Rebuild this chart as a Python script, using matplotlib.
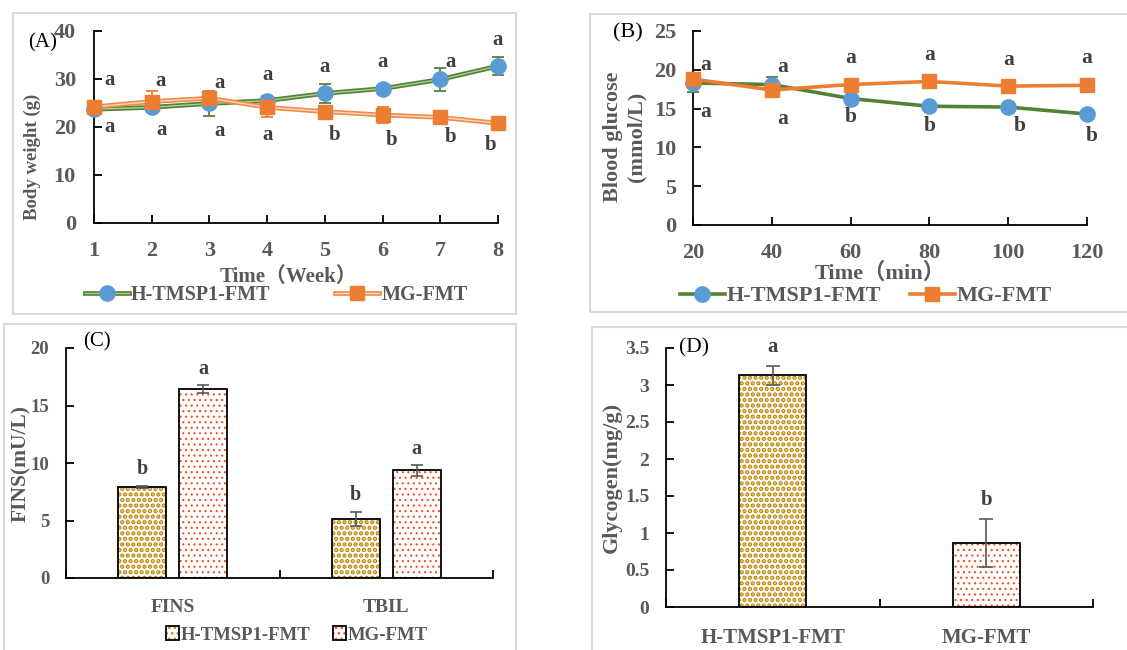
import numpy as np
import matplotlib
matplotlib.use('Agg')
import matplotlib.pyplot as plt
from matplotlib.patches import Rectangle
from matplotlib.ticker import FuncFormatter

plt.rcParams['font.family'] = ['Liberation Serif', 'Noto Sans CJK SC', 'DejaVu Sans']

# ---- data (A) body weight
weeks = [1, 2, 3, 4, 5, 6, 7, 8]
bw_h = [23.7, 24.1, 24.9, 25.5, 27.0, 28.0, 29.9, 32.7]
bw_h_err = [0.5, 0.8, 2.6, 1.0, 2.0, 0.8, 2.3, 1.8]
bw_mg = [24.2, 25.3, 26.0, 24.1, 23.2, 22.5, 22.0, 20.8]
bw_mg_err = [0.5, 2.1, 1.5, 2.0, 1.0, 1.7, 0.6, 0.8]
bw_top_lab = ['a'] * 8
bw_top_y = [29.8, 29.5, 29.1, 30.8, 32.6, 33.6, 33.6, 38.1]
bw_top_dx = [0.27, 0.16, 0.17, 0, 0, 0, 0.17, 0]
bw_bot_lab = ['a', 'a', 'a', 'a', 'b', 'b', 'b', 'b']
bw_bot_y = [20.1, 19.4, 19.1, 18.4, 18.4, 17.3, 18.0, 16.3]
bw_bot_dx = [0.27, 0.17, 0.18, 0, 0.17, 0.16, 0.17, -0.13]

# ---- data (B) blood glucose
minutes = [20, 40, 60, 80, 100, 120]
bg_h = [18.3, 18.1, 16.3, 15.3, 15.2, 14.3]
bg_h_err = [1.1, 1.0, 0.3, 0.3, 0.3, 0.3]
bg_mg = [18.8, 17.4, 18.1, 18.5, 17.9, 18.0]
bg_mg_err = [0.5, 0.9, 0.4, 0.4, 0.4, 0.4]
bg_top_lab = ['a'] * 6
bg_top_y = [20.6, 20.4, 21.5, 21.9, 21.3, 21.5]
bg_top_dx = [3.2, 2.8, 0, 0, 0, 0]
bg_bot_lab = ['a', 'a', 'b', 'b', 'b', 'b']
bg_bot_y = [14.6, 13.7, 13.9, 12.8, 12.8, 11.5]
bg_bot_dx = [3.2, 2.8, 0, 0, 3.0, 1.3]

# ---- data (C) FINS / TBIL
c_cats = ['FINS', 'TBIL']
c_h = [7.9, 5.13]
c_h_err = [0.1, 0.6]
c_mg = [16.4, 9.36]
c_mg_err = [0.35, 0.5]
c_h_lab = ['b', 'b']
c_mg_lab = ['a', 'a']

# ---- data (D) glycogen
d_cats = ['H-TMSP1-FMT', 'MG-FMT']
d_vals = [3.13, 0.865]
d_err = [0.13, 0.33]
d_lab = ['a', 'b']

groups = ['H-TMSP1-FMT', 'MG-FMT']

GRAY = '#595959'
DARK = '#404040'
GREEN = '#548235'
BLUE = '#5B9BD5'
ORANGE = '#ED7D31'
GOLD = '#C08500'
RED = '#F0501E'

W, H = 1127, 650
fig = plt.figure(figsize=(W / 100, H / 100), dpi=100)


def rect(l, r, t, b):
    return [l / W, 1 - b / H, (r - l) / W, (b - t) / H]


def fx(x):
    return x / W


def fy(y):
    return 1 - y / H


# light gray panel frames
for l, t, r, b in [(13, 13, 516, 314), (590, 14, 1130, 312), (4, 324, 516, 660), (592, 327, 1130, 660)]:
    fig.patches.append(Rectangle((fx(l), fy(b)), fx(r - l), (b - t) / H, transform=fig.transFigure,
                                 fill=False, edgecolor='#D9D9D9', linewidth=1.5))


def style_axes(ax, fs, xpad, ypad):
    for s in ['top', 'right']:
        ax.spines[s].set_visible(False)
    for s in ['left', 'bottom']:
        ax.spines[s].set_linewidth(1.3)
        ax.spines[s].set_color('black')
    ax.tick_params(axis='both', direction='in', length=6, width=1.3, colors='black',
                   labelcolor=GRAY, labelsize=fs)
    ax.tick_params(axis='x', pad=xpad)
    ax.tick_params(axis='y', pad=ypad)
    for lab in ax.get_xticklabels() + ax.get_yticklabels():
        lab.set_fontweight('bold')


def num_fmt(v, pos):
    return ('%g' % v)


# ================= (A)
axA = fig.add_axes(rect(94, 498, 31, 223))
axA.set_xlim(1, 8)
axA.set_ylim(0, 40)
axA.set_xticks(weeks)
axA.set_yticks([0, 10, 20, 30, 40])
axA.errorbar(weeks, bw_h, yerr=bw_h_err, fmt='none', ecolor=GREEN, elinewidth=1.3, capsize=4, capthick=1.3, clip_on=False, zorder=3)
axA.errorbar(weeks, bw_mg, yerr=bw_mg_err, fmt='none', ecolor=ORANGE, elinewidth=1.3, capsize=4, capthick=1.3, clip_on=False, zorder=3)
hA1, = axA.plot(weeks, bw_h, color=GREEN, lw=3.4, clip_on=False, zorder=4)
hA2, = axA.plot(weeks, bw_h, color='#A9D18E', lw=1.0, clip_on=False, zorder=4)
hA3, = axA.plot(weeks, bw_h, ls='none', marker='o', ms=11, color=BLUE, clip_on=False, zorder=5)
mA1, = axA.plot(weeks, bw_mg, color='#F08A4B', lw=3.4, clip_on=False, zorder=6)
mA2, = axA.plot(weeks, bw_mg, color='#FBD9C2', lw=1.0, clip_on=False, zorder=6)
mA3, = axA.plot(weeks, bw_mg, ls='none', marker='s', ms=9.5, color=ORANGE, clip_on=False, zorder=7)
for i, x in enumerate(weeks):
    axA.text(x + bw_top_dx[i], bw_top_y[i], bw_top_lab[i], ha='center', va='center', fontsize=15,
             fontweight='bold', color=DARK, zorder=8)
    axA.text(x + bw_bot_dx[i], bw_bot_y[i], bw_bot_lab[i], ha='center', va='center', fontsize=15,
             fontweight='bold', color=DARK, zorder=8)
style_axes(axA, 16, 13, 13)
fig.text(fx(32), fy(157), 'Body weight (g)', rotation=90, ha='center', va='center', fontsize=13.5,
         fontweight='bold', color=GRAY)
fig.text(fx(288), fy(277), 'Time（Week）', ha='center', va='center', fontsize=15,
         fontweight='bold', color=GRAY)
fig.text(fx(43), fy(43), '(A)', ha='center', va='center', fontsize=15, color='black')
legA = axA.legend([(hA1, hA2, hA3), (mA1, mA2, mA3)], groups, loc='center', ncol=2,
                  bbox_to_anchor=(fx(276), fy(295)), bbox_transform=fig.transFigure, frameon=False,
                  handlelength=2.2, columnspacing=3.2, handletextpad=0.1,
                  prop={'size': 14.5, 'weight': 'bold'})
for t in legA.get_texts():
    t.set_color(GRAY)

# ================= (B)
axB = fig.add_axes(rect(693, 1087, 31, 225))
axB.set_xlim(20, 120)
axB.set_ylim(0, 25)
axB.set_xticks(minutes)
axB.set_yticks([0, 5, 10, 15, 20, 25])
axB.errorbar(minutes, bg_h, yerr=bg_h_err, fmt='none', ecolor=GREEN, elinewidth=1.3, capsize=4, capthick=1.3, clip_on=False, zorder=3)
axB.errorbar(minutes, bg_mg, yerr=bg_mg_err, fmt='none', ecolor=ORANGE, elinewidth=1.3, capsize=4, capthick=1.3, clip_on=False, zorder=3)
hB, = axB.plot(minutes, bg_h, color=GREEN, lw=2.6, marker='o', ms=11, mfc=BLUE, mec=BLUE,
               clip_on=False, zorder=4)
mB, = axB.plot(minutes, bg_mg, color=ORANGE, lw=2.6, marker='s', ms=9.5, mfc=ORANGE, mec=ORANGE,
               clip_on=False, zorder=5)
for i, x in enumerate(minutes):
    axB.text(x + bg_top_dx[i], bg_top_y[i], bg_top_lab[i], ha='center', va='center', fontsize=15.5,
             fontweight='bold', color=DARK, zorder=8)
    axB.text(x + bg_bot_dx[i], bg_bot_y[i], bg_bot_lab[i], ha='center', va='center', fontsize=15.5,
             fontweight='bold', color=DARK, zorder=8)
style_axes(axB, 16, 13, 12)
fig.text(fx(625), fy(137), 'Blood glucose\n(mmol/L)', rotation=90, ha='center', va='center',
         fontsize=16, fontweight='bold', color=GRAY, linespacing=1.25)
fig.text(fx(880), fy(273), 'Time（min）', ha='center', va='center', fontsize=16,
         fontweight='bold', color=GRAY)
fig.text(fx(628), fy(33), '(B)', ha='center', va='center', fontsize=16, color='black')
legB = axB.legend([hB, mB], groups, loc='center', ncol=2,
                  bbox_to_anchor=(fx(866), fy(296)), bbox_transform=fig.transFigure, frameon=False,
                  handlelength=2.0, columnspacing=1.3, handletextpad=0.1,
                  prop={'size': 16, 'weight': 'bold'})
for t in legB.get_texts():
    t.set_color(GRAY)


# ================= bar helpers
def hatched_bar(ax, x, h, width, color, hatch, hlw):
    with plt.rc_context({'hatch.linewidth': hlw}):
        b1 = ax.bar(x, h, width, color='white', edgecolor=color, hatch=hatch, linewidth=0, zorder=2)
    for p in b1:
        if hasattr(p, 'set_hatch_linewidth'):
            p.set_hatch_linewidth(hlw)
    b2 = ax.bar(x, h, width, fill=False, edgecolor='black', linewidth=1.3, zorder=3)
    return b1, b2


def cat_axes(ax, n):
    ax.set_xlim(-0.5, n - 0.5)
    ax.set_xticks(np.arange(n + 1) - 0.5)
    ax.set_xticklabels([''] * (n + 1))


H_HATCH, H_LW = '...', 2.2
M_HATCH, M_LW = '...', 0.8

# ================= (C)
axC = fig.add_axes(rect(66, 493, 348, 578))
xc = np.arange(len(c_cats))
cat_axes(axC, len(c_cats))
axC.set_ylim(0, 20)
axC.set_yticks([0, 5, 10, 15, 20])
hc = hatched_bar(axC, xc - 0.143, c_h, 0.225, GOLD, H_HATCH, H_LW)
mc = hatched_bar(axC, xc + 0.143, c_mg, 0.225, RED, M_HATCH, M_LW)
axC.errorbar(xc - 0.143, c_h, yerr=c_h_err, fmt='none', ecolor=GRAY, elinewidth=1.2, capsize=4, capthick=1.2, zorder=4)
axC.errorbar(xc + 0.143, c_mg, yerr=c_mg_err, fmt='none', ecolor=GRAY, elinewidth=1.2, capsize=4, capthick=1.2, zorder=4)
for i in range(len(c_cats)):
    axC.text(xc[i] - 0.143, c_h[i] + c_h_err[i] + 1.5, c_h_lab[i], ha='center', va='center',
             fontsize=14.5, fontweight='bold', color=DARK)
    axC.text(xc[i] + 0.143, c_mg[i] + c_mg_err[i] + 1.4, c_mg_lab[i], ha='center', va='center',
             fontsize=14.5, fontweight='bold', color=DARK)
style_axes(axC, 13.5, 14, 12)
axC.set_xticks(xc, minor=True)
axC.set_xticklabels(c_cats, minor=True)
axC.tick_params(axis='x', which='minor', length=0, pad=15, labelsize=14, labelcolor=GRAY)
for lab in axC.get_xticklabels(minor=True):
    lab.set_fontweight('bold')
fig.text(fx(21), fy(463), 'FINS(mU/L)', rotation=90, ha='center', va='center', fontsize=15.5,
         fontweight='bold', color=GRAY)
fig.text(fx(97), fy(342), '(C)', ha='center', va='center', fontsize=15, color='black')
legC = axC.legend([(hc[0][0], hc[1][0]), (mc[0][0], mc[1][0])], groups, loc='center', ncol=2,
                  bbox_to_anchor=(fx(297), fy(635)), bbox_transform=fig.transFigure, frameon=False,
                  handlelength=0.7, handleheight=0.7, columnspacing=1.2, handletextpad=0.1,
                  prop={'size': 13.5, 'weight': 'bold'})
for t in legC.get_texts():
    t.set_color(GRAY)

# ================= (D)
axD = fig.add_axes(rect(666, 1093, 348, 607))
xd = np.arange(len(d_cats))
cat_axes(axD, len(d_cats))
axD.set_ylim(0, 3.5)
axD.set_yticks(np.arange(0, 3.51, 0.5))
axD.yaxis.set_major_formatter(FuncFormatter(num_fmt))
hatched_bar(axD, xd[0], d_vals[0], 0.315, GOLD, H_HATCH, H_LW)
hatched_bar(axD, xd[1], d_vals[1], 0.315, RED, M_HATCH, M_LW)
axD.errorbar(xd, d_vals, yerr=d_err, fmt='none', ecolor=GRAY, elinewidth=1.2, capsize=5, capthick=1.2, zorder=4)
label_y = [3.52, 1.45]
for i in range(len(d_cats)):
    axD.text(xd[i], label_y[i], d_lab[i], ha='center', va='center', fontsize=15,
             fontweight='bold', color=DARK)
style_axes(axD, 14, 14, 12)
axD.set_xticks(xd, minor=True)
axD.set_xticklabels(d_cats, minor=True)
axD.tick_params(axis='x', which='minor', length=0, pad=15, labelsize=15, labelcolor=GRAY)
for lab in axD.get_xticklabels(minor=True):
    lab.set_fontweight('bold')
fig.text(fx(612), fy(477), 'Glycogen(mg/g)', rotation=90, ha='center', va='center', fontsize=16,
         fontweight='bold', color=GRAY)
fig.text(fx(694), fy(348), '(D)', ha='center', va='center', fontsize=15.5, color='black')

fig.savefig('out.png', dpi=100)
